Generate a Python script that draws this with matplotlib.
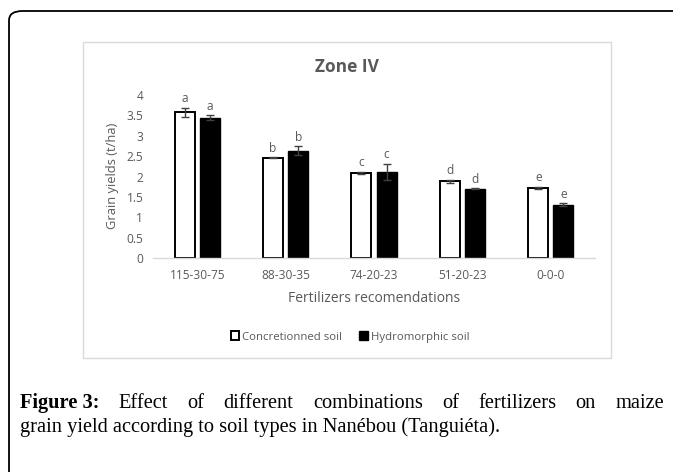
import matplotlib
matplotlib.use("Agg")
import matplotlib.pyplot as plt
from matplotlib.patches import FancyBboxPatch, Rectangle
import numpy as np

categories = ["115-30-75", "88-30-35", "74-20-23", "51-20-23", "0-0-0"]
concretionned = [3.58, 2.46, 2.09, 1.88, 1.72]
concretionned_err = [0.11, 0.01, 0.03, 0.04, 0.03]
hydromorphic = [3.44, 2.63, 2.11, 1.70, 1.31]
hydromorphic_err = [0.06, 0.11, 0.19, 0.01, 0.03]
letters_conc = ["a", "b", "c", "d", "e"]
letters_hydro = ["a", "b", "c", "d", "e"]
series_names = ["Concretionned soil", "Hydromorphic soil"]
title = "Zone IV"
xlabel = "Fertilizers recomendations"
ylabel = "Grain yields (t/ha)"
caption_bold = "Figure 3:"
caption_line1 = "Effect of different combinations of fertilizers on maize"
caption_line2 = "grain yield according to soil types in Nanébou (Tanguiéta)."

W, H = 673, 472
fig = plt.figure(figsize=(W / 100, H / 100), dpi=100)
fig.patch.set_facecolor("white")

def fx(px):
    return px / W

def fy(py):
    return 1 - py / H

# outer rounded frame
outer = FancyBboxPatch((fx(9), fy(490)), fx(700) - fx(9), fy(11) - fy(490),
                       boxstyle="round,pad=0,rounding_size=0.02",
                       transform=fig.transFigure, fill=False,
                       edgecolor="black", linewidth=1.3, clip_on=False)
fig.patches.append(outer)

# inner chart frame
inner = Rectangle((fx(83), fy(358)), fx(611) - fx(83), fy(42) - fy(358),
                  transform=fig.transFigure, fill=False,
                  edgecolor="#d9d9d9", linewidth=1.0)
fig.patches.append(inner)

grey = "#595959"
font = "Open Sans"
tick_fs = 8.6

ax = fig.add_axes([fx(153), fy(258), fx(595) - fx(153), fy(95) - fy(258)])
x = np.arange(len(categories))
bw = 0.226
off = 0.142
ax.bar(x - off, concretionned, bw, color="white", edgecolor="black", linewidth=1.4,
       yerr=concretionned_err, error_kw=dict(ecolor="#404040", elinewidth=1, capsize=3, capthick=1),
       label=series_names[0], zorder=2)
ax.bar(x + off, hydromorphic, bw, color="black", edgecolor="black", linewidth=1.0,
       yerr=hydromorphic_err, error_kw=dict(ecolor="#404040", elinewidth=1, capsize=3, capthick=1),
       label=series_names[1], zorder=2)

for i in range(len(categories)):
    ax.annotate(letters_conc[i], (x[i] - off, concretionned[i] + concretionned_err[i]),
                xytext=(0, 2), textcoords="offset points", ha="center", va="bottom",
                fontsize=tick_fs, color=grey, family=font)
    ax.annotate(letters_hydro[i], (x[i] + off, hydromorphic[i] + hydromorphic_err[i]),
                xytext=(0, 2), textcoords="offset points", ha="center", va="bottom",
                fontsize=tick_fs, color=grey, family=font)

ax.set_xlim(-0.5, len(categories) - 0.5)
ax.set_ylim(0, 4)
ax.set_yticks(np.arange(0, 4.01, 0.5))
ax.set_yticklabels(["0", "0.5", "1", "1.5", "2", "2.5", "3", "3.5", "4"])
ax.set_xticks(x)
ax.set_xticklabels(categories)
for s in ["top", "right", "left"]:
    ax.spines[s].set_visible(False)
ax.spines["bottom"].set_color("#d9d9d9")
ax.spines["bottom"].set_linewidth(1.0)
ax.tick_params(axis="both", length=0, labelsize=tick_fs, labelcolor=grey)
ax.tick_params(axis="x", pad=8)
ax.tick_params(axis="y", pad=7)
for lab in ax.get_xticklabels() + ax.get_yticklabels():
    lab.set_family(font)

fig.text(fx(113), fy(176), ylabel, rotation=90, ha="center", va="center",
         fontsize=9.3, color=grey, family=font)
fig.text(fx(374), fy(298), xlabel, ha="center", va="center",
         fontsize=10, color=grey, family=font)
fig.text(fx(347), fy(67), title, ha="center", va="center",
         fontsize=12.5, color=grey, family=font, fontweight="bold")

leg = fig.legend(loc="center", bbox_to_anchor=(fx(350), fy(337)), ncol=2, frameon=False,
                 prop={"family": font, "size": 8.2}, handlelength=0.75, handleheight=0.75,
                 handletextpad=0.25, columnspacing=1.5)
for t in leg.get_texts():
    t.set_color(grey)

# caption: justified first line
renderer = fig.canvas.get_renderer()
cap_size = 14.7
serif = "Liberation Serif"
y1 = fy(403)
y2 = fy(427)
words = [(caption_bold, "bold")] + [(w, "normal") for w in caption_line1.split()]
texts = []
for w, wt in words:
    t = fig.text(0, y1, w, ha="left", va="center", fontsize=cap_size,
                 family=serif, fontweight=wt, color="black")
    texts.append(t)
widths = [t.get_window_extent(renderer).width for t in texts]
left_px, right_px = 20, 664
gap = (right_px - left_px - sum(widths)) / (len(texts) - 1)
cur = left_px
for t, w in zip(texts, widths):
    t.set_x(cur / W)
    cur += w + gap
fig.text(fx(20), y2, caption_line2, ha="left", va="center", fontsize=cap_size,
         family=serif, color="black")

fig.savefig("out.png", dpi=100, facecolor="white")
